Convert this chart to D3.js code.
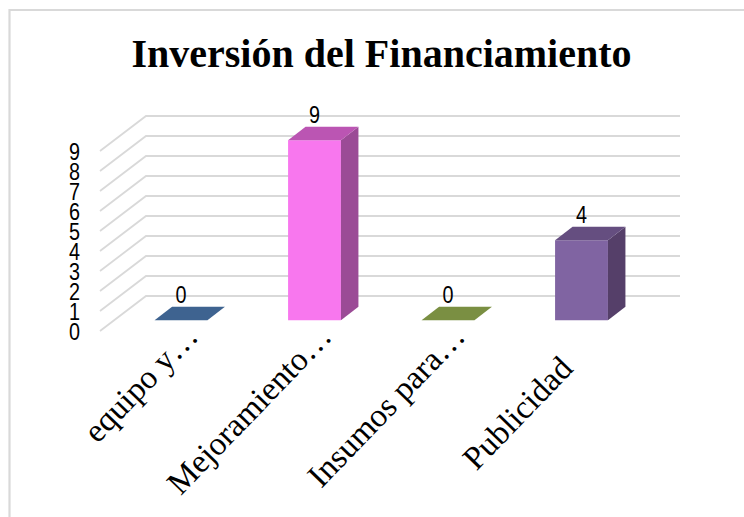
<!DOCTYPE html>
<html>
<head>
<meta charset="utf-8">
<script src="https://cdn.jsdelivr.net/npm/d3@7"></script>
<style>
  html, body { margin: 0; padding: 0; background: #fff; }
  svg { display: block; }
</style>
</head>
<body>
<div id="svgcontainer"></div>
<script>
// chart values
var CATEGORIES = ["equipo y…", "Mejoramiento…", "Insumos para…", "Publicidad"];
var VALUES = [0, 9, 0, 4];
var Y_TICKS = [0, 1, 2, 3, 4, 5, 6, 7, 8, 9];
var COLORS_FRONT = ["#4f81bd", "#f877ee", "#9bbb59", "#8064a2"];
var COLORS_TOP = ["#3e6390", "#bb55b3", "#7a8f42", "#654e80"];
var COLORS_SIDE = ["#34537a", "#9b4b96", "#66783a", "#553f69"];

// the floor goes back this far from the front edge
var DEPTH_X = 46;
var DEPTH_Y = -35;
var BAR_NEAR = 0.31;
var BAR_FAR = 0.69;
// Arial Narrow is not installed, so squeeze Liberation Sans instead
var NARROW = 0.86;

var svg = d3.select("#svgcontainer").append("svg")
    .attr("width", 744)
    .attr("height", 517);

var x = d3.scaleBand().domain(CATEGORIES).range([100, 634]).paddingInner(0.604).paddingOuter(0.302);
var y = d3.scaleLinear().domain([0, 9]).range([331, 151]);

// move a point from the front plane back into the chart
function project(px, py, d) {
    return [px + DEPTH_X * d, py + DEPTH_Y * d];
}

function poly(points) {
    return points.map(function(p) { return p.join(","); }).join(" ");
}

function narrowText(px, py, anchor, txt) {
    svg.append("text")
        .attr("transform", "translate(" + px + "," + py + ") scale(" + NARROW + ",1)")
        .attr("dy", "0.36em")
        .attr("text-anchor", anchor)
        .attr("font-family", "Liberation Sans")
        .attr("font-size", 23)
        .attr("fill", "#000")
        .text(txt);
}

// chart border, only top and left are in the picture
svg.append("polyline")
    .attr("points", "9.5,517 9.5,10 744,10")
    .attr("fill", "none")
    .attr("stroke", "#d9d9d9")
    .attr("stroke-width", 2.2);

svg.append("text")
    .attr("x", 381.5)
    .attr("y", 67)
    .attr("text-anchor", "middle")
    .attr("font-family", "Liberation Serif")
    .attr("font-weight", "bold")
    .attr("font-size", 40)
    .attr("fill", "#000")
    .text("Inversión del Financiamiento");

// grid on side wall and back wall
svg.selectAll(".grid")
    .data(Y_TICKS)
    .enter().append("polyline")
    .attr("class", "grid")
    .attr("fill", "none")
    .attr("stroke", "#d9d9d9")
    .attr("stroke-width", 1.8)
    .attr("points", function(d) {
        return poly([[100, y(d)], project(100, y(d), 1), project(634, y(d), 1)]);
    });

Y_TICKS.forEach(function(d) {
    narrowText(80, y(d) + 1, "end", d);
});

// bars
CATEGORIES.forEach(function(c, i) {
    var x0 = x(c);
    var x1 = x0 + x.bandwidth();
    var yb = y(0);
    var yt = y(VALUES[i]);

    if (VALUES[i] > 0) {
        svg.append("polygon")
            .attr("points", poly([project(x0, yb, BAR_NEAR), project(x1, yb, BAR_NEAR), project(x1, yt, BAR_NEAR), project(x0, yt, BAR_NEAR)]))
            .attr("fill", COLORS_FRONT[i]);
        svg.append("polygon")
            .attr("points", poly([project(x1, yb, BAR_NEAR), project(x1, yb, BAR_FAR), project(x1, yt, BAR_FAR), project(x1, yt, BAR_NEAR)]))
            .attr("fill", COLORS_SIDE[i]);
    }
    svg.append("polygon")
        .attr("points", poly([project(x0, yt, BAR_NEAR), project(x1, yt, BAR_NEAR), project(x1, yt, BAR_FAR), project(x0, yt, BAR_FAR)]))
        .attr("fill", COLORS_TOP[i]);

    // value label above the bar
    var lab = project(x0 + x.bandwidth() / 2, yt, BAR_NEAR);
    narrowText(lab[0], lab[1] - 25, "middle", VALUES[i]);

    // category label, full names stop short of where the cut ones end
    var tick = project(x0 + x.bandwidth() / 2, yb, BAR_NEAR);
    var cut = c.charAt(c.length - 1) == "…";
    svg.append("text")
        .attr("transform", "translate(" + (tick[0] + (cut ? 19 : -7)) + "," + (yb + (cut ? 7 : 39)) + ") rotate(-46)")
        .attr("text-anchor", "end")
        .attr("font-family", "Liberation Serif")
        .attr("font-size", 33)
        .attr("fill", "#000")
        .text(c);
});
</script>
</body>
</html>
